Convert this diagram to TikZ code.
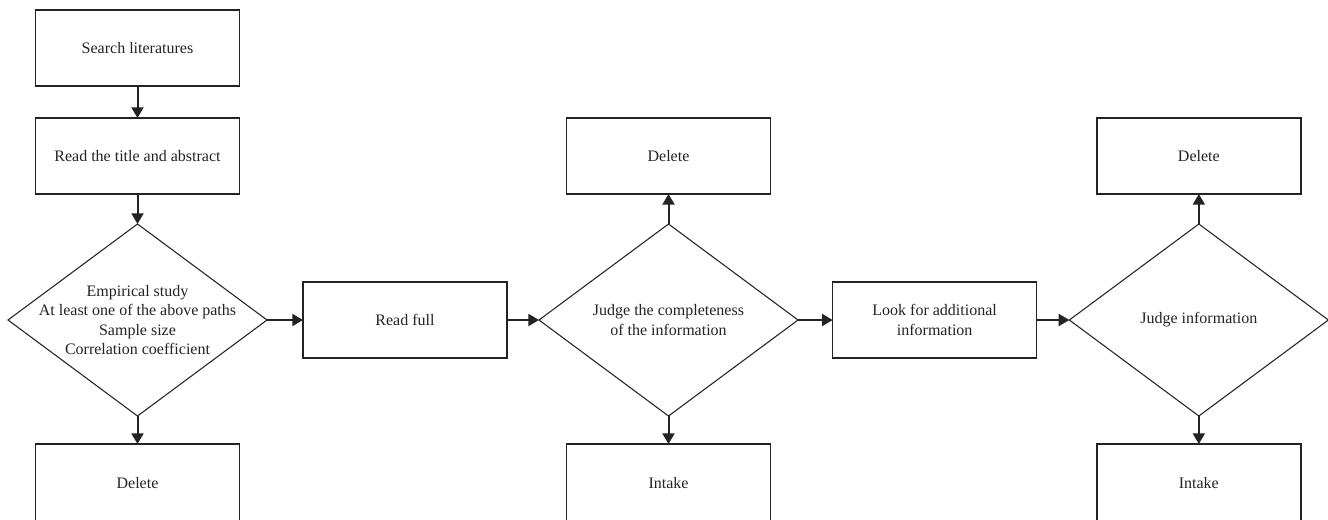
\documentclass[tikz,border=0pt]{standalone}
\usepackage{fontspec}
\setmainfont{Liberation Serif}
\usepackage{tikz}
\usetikzlibrary{positioning,arrows.meta, shapes.geometric}
\definecolor{linea}{RGB}{35,35,35}
\tikzset{caja/.style={draw=linea, rectangle, minimum width=153pt, minimum height=57pt, line width=1pt, align=center, outer sep=0pt}}
\tikzset{rombo/.style={draw=linea, diamond, minimum width=194.25pt, minimum height=144pt, inner sep=0pt, line width=0.8pt, outer sep=0pt}}
\tikzset{flecha/.style={line width=1.5pt, draw=linea, -{Triangle[length=8pt,width=9pt]}}}

\begin{document}
\begin{tikzpicture}[every node/.style={font=\fontsize{12}{14.5}\selectfont, text=linea}]
            \useasboundingbox (-103.125pt,36pt) rectangle (892.875pt,-353.25pt);

            \node[caja] (1) at (0,0) {Search literatures};
            \node[caja, below = 24pt of 1] (2) {Read the title and abstract};
            \node[rombo, below = 22.5pt of 2, label={[align=center]center:{Empirical study\\At least one of the above paths\\Sample size\\Correlation coefficient}}] (3) {};
            \node[caja, below = 21pt of 3, minimum height=59pt] (4) {Delete};
            \node[caja, right = 27pt of 3] (5) {Read full};
            \node[rombo, right = 24pt of 5, label={[align=center]center:{Judge the completeness\\of the information}}] (6) {};
            \node[caja, above = 22.5pt of 6] (7) {Delete};
            \node[caja, below = 21pt of 6, minimum height=59pt] (8) {Intake};
            \node[caja, right = 26pt of 6] (9) {Look for additional\\information};
            \node[rombo, right = 24.5pt of 9, label={center:Judge information}] (10) {};
            \node[caja, above = 22.5pt of 10] (11) {Delete};
            \node[caja, below = 21pt of 10, minimum height=59pt] (12) {Intake};

            \draw[flecha] (1) to (2);
            \draw[flecha] (2) to (3);
            \draw[flecha] (3) to (4);
            \draw[flecha] (3) to (5);
            \draw[flecha] (5) to (6);
            \draw[flecha] (6) to (7);
            \draw[flecha] (6) to (8);
            \draw[flecha] (6) to (9);
            \draw[flecha] (9) to (10);
            \draw[flecha] (10) to (11);
            \draw[flecha] (10) to (12);
        \end{tikzpicture}
\end{document}
